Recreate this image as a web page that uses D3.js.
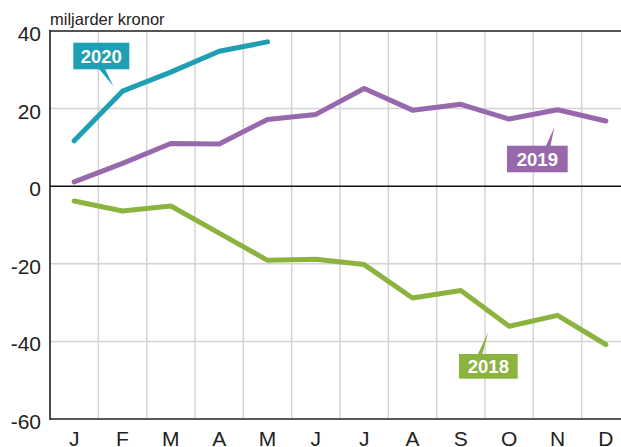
<!DOCTYPE html>
<html><head><meta charset="utf-8">
<script src="https://cdn.jsdelivr.net/npm/d3@7"></script>
<style>body{margin:0;background:#fff}svg{display:block}</style>
</head><body>
<svg id="c" width="621" height="447"></svg>
<script>
const months = ["J","F","M","A","M","J","J","A","S","O","N","D"];
const yTicks = [40,20,0,-20,-40,-60];
const s2020 = [11.7,24.5,29.4,34.8,37.2];
const s2019 = [1.1,5.9,11.0,10.9,17.2,18.5,25.2,19.6,21.1,17.3,19.7,16.8];
const s2018 = [-3.8,-6.4,-5.1,-12.1,-19.1,-18.8,-20.2,-28.8,-26.9,-36.1,-33.3,-40.8];
const seriesNames = ["2018","2019","2020"];
const colors = {"2018":"#8db33f","2019":"#9868ac","2020":"#1f9fb4"};
const unitLabel = "miljarder kronor";

const svg = d3.select("#c");
const L=50, R=630, T=31, B=419;
const x = d3.scaleBand().domain(d3.range(12)).range([L,R]).padding(0);
const y = d3.scaleLinear().domain([-60,40]).range([B,T]);
const cx = i => x(i)+x.bandwidth()/2;
const FONT = "Liberation Sans, Arial, sans-serif";

// grid
const g = svg.append("g");
g.selectAll("line.v").data(d3.range(1,12)).join("line")
  .attr("x1",i=>x(i)).attr("x2",i=>x(i)).attr("y1",T).attr("y2",B)
  .attr("stroke","#d4d4d4").attr("stroke-width",1.5);
g.selectAll("line.h").data(yTicks.filter(v=>v!==0&&v!==40&&v!==-60)).join("line")
  .attr("x1",L).attr("x2",R).attr("y1",d=>y(d)).attr("y2",d=>y(d))
  .attr("stroke","#d4d4d4").attr("stroke-width",1.5);
svg.append("line").attr("x1",L).attr("x2",R).attr("y1",y(40)).attr("y2",y(40)).attr("stroke","#555").attr("stroke-width",2);
svg.append("line").attr("x1",L).attr("x2",R).attr("y1",y(0)).attr("y2",y(0)).attr("stroke","#111").attr("stroke-width",1.5);
svg.append("line").attr("x1",L).attr("x2",R).attr("y1",y(-60)).attr("y2",y(-60)).attr("stroke","#222").attr("stroke-width",1.5);
svg.append("line").attr("x1",L).attr("x2",L).attr("y1",y(40)-1).attr("y2",y(-60)+0.75).attr("stroke","#111").attr("stroke-width",1.5);

// y labels
svg.selectAll("text.yt").data(yTicks).join("text")
  .attr("x",41).attr("y",d=>y(d)+10).attr("text-anchor","end")
  .attr("font-family",FONT).attr("font-size",21).attr("fill","#222")
  .text(d=>d);
// x labels
svg.selectAll("text.xt").data(months).join("text")
  .attr("x",(d,i)=>cx(i)).attr("y",446).attr("text-anchor","middle")
  .attr("font-family",FONT).attr("font-size",21).attr("fill","#222")
  .text(d=>d);
// unit
svg.append("text").attr("x",50).attr("y",25).attr("font-family",FONT)
  .attr("font-size",16.5).attr("fill","#222").text(unitLabel);

// lines
const line = d3.line().x((d,i)=>cx(i)).y(d=>y(d));
const data = {"2018":s2018,"2019":s2019,"2020":s2020};
seriesNames.forEach(n=>{
  svg.append("path").attr("d",line(data[n])).attr("fill","none")
    .attr("stroke",colors[n]).attr("stroke-width",5).attr("stroke-linecap","round").attr("stroke-linejoin","round");
});

// labels with pointers
const labels = [
  {n:"2020", x0:73.3, y0:42.7, w:56, h:26.6, p:[[99,69],[105,69],[113.3,86]]},
  {n:"2019", x0:507, y0:145.7, w:60.7, h:26.6, p:[[546,146],[550.5,146],[554.3,127.3]]},
  {n:"2018", x0:459, y0:354, w:58.7, h:24.7, p:[[477.7,354.5],[482.3,354.5],[488.3,332]]}
];
labels.forEach(l=>{
  svg.append("path").attr("d","M"+l.p.map(p=>p.join(",")).join("L")+"Z").attr("fill",colors[l.n]);
  svg.append("rect").attr("x",l.x0).attr("y",l.y0).attr("width",l.w).attr("height",l.h).attr("fill",colors[l.n]);
  svg.append("text").attr("x",l.x0+l.w/2).attr("y",l.y0+l.h/2).attr("dy","0.36em").attr("text-anchor","middle")
    .attr("font-family",FONT).attr("font-weight","bold").attr("font-size",18.5)
    .attr("fill","#fff").text(l.n);
});
</script>
</body></html>
